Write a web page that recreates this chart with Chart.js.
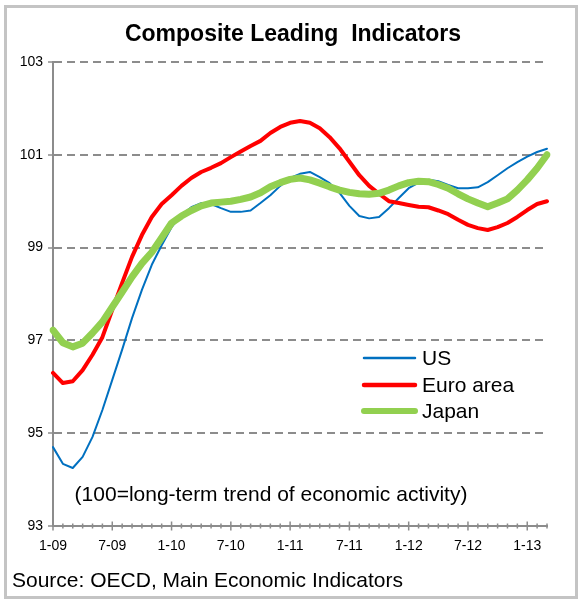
<!DOCTYPE html>
<html lang="en">
<head>
    <meta charset="UTF-8">
    <title>Composite Leading Indicators</title>
    <style>
        body {
            margin: 0;
            background: #fff;
            font-family: "Liberation Sans", Arial, sans-serif;
        }
        #frame {
            position: absolute;
            left: 4px;
            top: 5px;
            width: 568px;
            height: 588px;
            border: 3px solid #c4c4c4;
        }
        #wrap {
            position: absolute;
            left: 0;
            top: 0;
            width: 581px;
            height: 602px;
        }
    </style>
</head>
<body>
    <div id="frame"></div>
    <div id="wrap"><canvas id="myChart" width="581" height="602"></canvas></div>

    <script src="https://cdn.jsdelivr.net/npm/chart.js"></script>
    <script>

// monthly, Jan 2009 .. Mar 2013
const years = ['09', '10', '11', '12', '13'];
const months = [];
years.forEach(y => {
    for (let m = 1; m <= 12; m++) {
        if (y === '13' && m > 3) break;
        months.push(m + '-' + y);
    }
});
const tickMonths = ['1-09', '7-09', '1-10', '7-10', '1-11', '7-11', '1-12', '7-12', '1-13'];

const usValues = [94.7, 94.34, 94.25, 94.49, 94.92, 95.5, 96.15, 96.8, 97.48, 98.09, 98.63, 99.05,
    99.44, 99.7, 99.87, 99.96, 99.94, 99.85, 99.77, 99.77, 99.8, 99.96, 100.13, 100.33,
    100.5, 100.59, 100.63, 100.52, 100.39, 100.18, 99.9, 99.68, 99.63, 99.66, 99.85, 100.07,
    100.28, 100.4, 100.46, 100.43, 100.35, 100.28, 100.28, 100.3, 100.41, 100.56, 100.71, 100.84,
    100.96, 101.06, 101.13];
const euroValues = [96.3, 96.08, 96.12, 96.36, 96.69, 97.07, 97.66, 98.24, 98.8, 99.27, 99.66, 99.94,
    100.13, 100.33, 100.5, 100.63, 100.72, 100.82, 100.95, 101.07, 101.19, 101.3, 101.47, 101.6,
    101.69, 101.73, 101.69, 101.57, 101.38, 101.14, 100.85, 100.56, 100.33, 100.16, 100.0, 99.96,
    99.92, 99.88, 99.87, 99.8, 99.72, 99.6, 99.49, 99.42, 99.38, 99.44, 99.53, 99.66,
    99.81, 99.94, 100.0];
const japanValues = [97.22, 96.95, 96.86, 96.94, 97.16, 97.4, 97.72, 98.04, 98.37, 98.66, 98.9, 99.21,
    99.53, 99.68, 99.8, 99.9, 99.96, 99.98, 100.0, 100.04, 100.09, 100.18, 100.31, 100.4,
    100.47, 100.5, 100.46, 100.39, 100.31, 100.24, 100.19, 100.16, 100.15, 100.17, 100.24, 100.33,
    100.4, 100.43, 100.42, 100.36, 100.28, 100.16, 100.05, 99.96, 99.88, 99.96, 100.05, 100.24,
    100.46, 100.71, 101.0];

const FONT = '"Liberation Sans", Arial, sans-serif';
const AXIS_GREY = '#8c8c8c';

// ticks that cross the x axis, long at each label, short every month
const crossTicks = {
    id: 'crossTicks',
    afterDraw(chart) {
        const ctx = chart.ctx;
        const x = chart.scales.x;
        const y0 = chart.chartArea.bottom;
        ctx.save();
        ctx.strokeStyle = AXIS_GREY;
        ctx.lineWidth = 1.5;
        months.forEach((m, i) => {
            const px = x.getPixelForValue(i);
            const len = tickMonths.includes(m) ? 4.5 : 2.5;
            ctx.beginPath();
            ctx.moveTo(px, y0 - len);
            ctx.lineTo(px, y0 + len);
            ctx.stroke();
        });
        ctx.restore();
    }
};

const legendInside = {
    id: 'legendInside',
    afterDatasetsDraw(chart) {
        const ctx = chart.ctx;
        const rows = [358, 385, 411];
        ctx.save();
        ctx.font = '21px ' + FONT;
        ctx.textBaseline = 'middle';
        ctx.lineCap = 'round';
        chart.data.datasets.forEach((ds, i) => {
            ctx.strokeStyle = ds.borderColor;
            ctx.lineWidth = ds.legendWidth;
            ctx.beginPath();
            ctx.moveTo(364, rows[i]);
            ctx.lineTo(415, rows[i]);
            ctx.stroke();
            ctx.fillStyle = '#000';
            ctx.fillText(ds.label, 422, rows[i] + 1);
        });
        ctx.restore();
    }
};

const texts = {
    id: 'texts',
    afterDraw(chart) {
        const ctx = chart.ctx;
        ctx.save();
        ctx.fillStyle = '#000';
        ctx.textBaseline = 'middle';
        ctx.textAlign = 'center';
        ctx.font = 'bold 23px ' + FONT;
        ctx.fillText('Composite Leading  Indicators', 293, 35);
        ctx.font = '21px ' + FONT;
        ctx.fillText('(100=long-term trend of economic activity)', 271, 495);
        ctx.textAlign = 'left';
        ctx.fillText('Source: OECD, Main Economic Indicators', 12, 581);
        ctx.restore();
    }
};

const ctx = document.getElementById('myChart').getContext('2d');
const chart = new Chart(ctx, {
    type: 'line',
    data: {
        labels: months,
        datasets: [
            { label: 'US', data: usValues, borderColor: '#0070C0', borderWidth: 2, legendWidth: 2.5, order: 3 },
            { label: 'Euro area', data: euroValues, borderColor: '#FF0000', borderWidth: 4, legendWidth: 4.5, order: 2 },
            { label: 'Japan', data: japanValues, borderColor: '#92D050', borderWidth: 7, legendWidth: 6, order: 1 }
        ]
    },
    options: {
        responsive: false,
        animation: false,
        devicePixelRatio: 1,
        layout: { padding: { left: 0, top: 62, right: 34, bottom: 0 } },
        elements: {
            point: { radius: 0 },
            line: { tension: 0, borderJoinStyle: 'round', borderCapStyle: 'round', fill: false }
        },
        plugins: {
            legend: { display: false },
            title: { display: false },
            tooltip: { enabled: false }
        },
        scales: {
            x: {
                offset: false,
                afterFit: s => { s.height = 76; },
                grid: { display: true, drawOnChartArea: false, drawTicks: false },
                border: { display: true, color: AXIS_GREY, width: 2 },
                ticks: {
                    autoSkip: false,
                    maxRotation: 0,
                    padding: 12,
                    color: '#000',
                    font: { family: FONT, size: 14 },
                    callback: function(v) {
                        const m = months[v];
                        return tickMonths.includes(m) ? m : '';
                    }
                }
            },
            y: {
                min: 93,
                max: 103,
                afterFit: s => { s.width = 53; },
                grid: {
                    color: AXIS_GREY,
                    lineWidth: 2,
                    drawTicks: true,
                    tickLength: 5,
                    tickColor: AXIS_GREY,
                    tickWidth: 1.5,
                    tickBorderDash: []
                },
                border: { display: true, color: AXIS_GREY, width: 2, dash: [8, 5] },
                ticks: {
                    stepSize: 2,
                    padding: 5,
                    color: '#000',
                    font: { family: FONT, size: 14 }
                }
            }
        }
    },
    plugins: [crossTicks, legendInside, texts]
});

    </script>
</body>
</html>
